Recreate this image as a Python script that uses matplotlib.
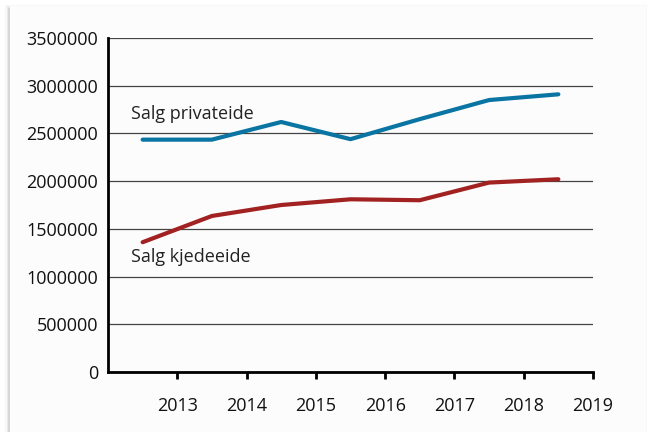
import matplotlib.pyplot as plt
from matplotlib.patches import Rectangle

# Salg per år, privateide og kjedeeide
years = ["2013", "2014", "2015", "2016", "2017", "2018", "2019"]
privateide = [2435000, 2435000, 2620000, 2440000, 2650000, 2850000, 2910000]
kjedeeide = [1360000, 1635000, 1750000, 1810000, 1800000, 1985000, 2020000]

plt.rcParams['font.family'] = ['Open Sans', 'DejaVu Sans']

fig = plt.figure(figsize=(6.52, 4.32), dpi=100)
fig.patch.set_facecolor('white')

# card background with soft edge
for i, a in enumerate([0.03, 0.05, 0.08]):
    fig.patches.append(Rectangle((0.008 + i * 0.002, -0.01), 0.984 - i * 0.004, 0.998 - i * 0.003,
                                 transform=fig.transFigure, facecolor='#000000', alpha=a,
                                 edgecolor='none', zorder=-10))
fig.patches.append(Rectangle((0.016, -0.01), 0.975, 0.995, transform=fig.transFigure,
                             facecolor='#fcfcfc', edgecolor='none', zorder=-9))

ax = fig.add_axes([0.1656, 0.1389, 0.7439, 0.7731])
ax.set_zorder(5)
ax.set_facecolor('none')

x = list(range(len(years)))
ax.plot(x, privateide, color='#0a74a3', lw=3, solid_capstyle='round', zorder=3)
ax.plot(x, kjedeeide, color='#a22222', lw=3, solid_capstyle='round', zorder=3)

ax.text(-0.17, 2700000, "Salg privateide", fontsize=13, color='#222222', ha='left', va='center')
ax.text(-0.17, 1200000, "Salg kjedeeide", fontsize=13, color='#222222', ha='left', va='center')

ax.set_xlim(-0.5, len(years) - 0.5)
ax.set_ylim(0, 3500000)
ax.set_yticks(range(0, 3500001, 500000))
ax.set_yticklabels([str(v) for v in range(0, 3500001, 500000)])
ax.set_xticks([i + 0.5 for i in x])
ax.set_xticklabels(years)

ax.grid(axis='y', color='#444444', lw=0.9)
ax.set_axisbelow(True)

for s in ['top', 'right']:
    ax.spines[s].set_visible(False)
for s in ['left', 'bottom']:
    ax.spines[s].set_linewidth(2)
    ax.spines[s].set_color('black')
    ax.spines[s].set_zorder(4)

ax.tick_params(axis='y', length=0, pad=7, labelsize=13, labelcolor='#111111')
ax.tick_params(axis='x', length=5, width=2, direction='out', pad=13, labelsize=13,
               labelcolor='#111111')

fig.savefig("out.png", dpi=100)
